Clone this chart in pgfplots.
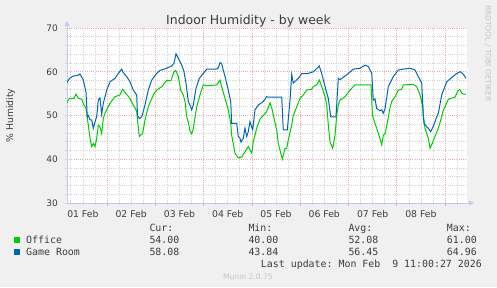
\documentclass[border=0pt]{standalone}
\usepackage{pgfplots}
\usepackage{pgfplotstable}
\pgfplotsset{compat=1.18}
\usepackage{fontspec}
\setmainfont{DejaVu Sans}
\setmonofont{DejaVu Sans Mono}
\usetikzlibrary{arrows.meta}
\definecolor{bgc}{HTML}{F0F0F0}
\definecolor{officec}{HTML}{00CC00}
\definecolor{gamec}{HTML}{0066B3}
\definecolor{mgrid}{HTML}{EAA8A8}
\definecolor{ngrid}{HTML}{D2D2D2}
\definecolor{axc}{HTML}{C8C8F4}
\definecolor{txt}{HTML}{3C3C3C}
\definecolor{lgray}{HTML}{C4C4C4}

% x = days since 01 Feb 00:00
\pgfplotstableread{
x y
0.166 52.9
0.220 53.9
0.317 53.9
0.358 54.9
0.410 53.9
0.476 53.7
0.524 52.4
0.565 51.6
0.613 47.8
0.648 44.8
0.683 42.9
0.717 43.6
0.752 42.9
0.787 44.8
0.820 47.8
0.855 47.4
0.890 45.9
0.924 49.4
0.959 50.5
0.994 51.3
1.062 52.8
1.166 54.3
1.269 54.7
1.325 56.0
1.373 55.3
1.476 53.9
1.545 52.4
1.615 51.0
1.632 49.0
1.669 45.2
1.739 45.9
1.752 46.7
1.787 49.0
1.855 52.0
1.959 54.7
2.029 55.8
2.133 56.6
2.236 58.0
2.326 58.0
2.388 60.0
2.423 60.3
2.477 58.9
2.526 55.8
2.580 54.7
2.616 53.2
2.651 49.7
2.684 48.5
2.719 46.5
2.754 45.8
2.787 47.0
2.858 52.0
2.926 54.7
2.994 57.0
3.071 56.8
3.272 57.0
3.340 58.1
3.375 56.6
3.444 53.9
3.512 51.3
3.562 48.2
3.582 45.5
3.651 41.4
3.719 40.3
3.790 40.5
3.858 41.7
3.926 42.9
3.997 41.4
4.030 44.0
4.100 47.1
4.169 49.2
4.237 50.0
4.307 50.9
4.376 52.9
4.417 51.5
4.445 50.0
4.514 46.7
4.548 43.6
4.597 41.4
4.630 40.0
4.686 42.5
4.721 42.5
4.755 44.4
4.825 47.8
4.858 50.0
4.929 52.0
4.997 53.9
5.065 54.7
5.136 55.8
5.239 56.0
5.272 56.6
5.343 57.0
5.397 58.1
5.446 56.6
5.515 54.3
5.550 52.4
5.583 47.8
5.618 44.0
5.674 42.5
5.722 45.5
5.757 50.0
5.790 52.4
5.825 53.5
5.929 54.3
6.032 55.8
6.136 57.0
6.467 57.0
6.498 50.0
6.550 48.2
6.585 47.1
6.639 45.2
6.689 43.3
6.722 45.5
6.757 45.8
6.825 49.5
6.861 51.8
6.896 53.2
6.964 54.3
7.033 55.8
7.103 56.0
7.136 57.0
7.343 57.1
7.413 56.6
7.482 54.7
7.538 52.0
7.550 50.0
7.585 47.1
7.654 44.8
7.689 42.5
7.724 43.3
7.792 45.2
7.861 47.1
7.931 49.7
7.958 51.0
7.999 52.0
8.068 53.7
8.207 54.2
8.275 55.8
8.310 55.9
8.345 55.1
8.379 54.9
8.434 54.9
}\officedata

\pgfplotstableread{
x y
0.166 57.5
0.234 58.6
0.302 59.0
0.400 59.2
0.441 59.5
0.509 58.1
0.565 55.4
0.592 49.7
0.613 50.0
0.648 49.0
0.683 49.0
0.717 47.1
0.752 48.5
0.787 49.8
0.820 53.5
0.855 54.0
0.890 50.3
0.924 52.8
0.994 55.8
1.062 57.7
1.166 58.5
1.234 59.6
1.305 60.6
1.338 59.8
1.408 58.9
1.476 57.7
1.545 55.8
1.615 54.7
1.632 50.0
1.669 49.3
1.719 49.7
1.787 52.4
1.855 55.8
1.926 58.1
2.029 59.6
2.098 60.3
2.236 60.8
2.340 61.3
2.388 62.0
2.429 64.1
2.477 63.1
2.547 61.5
2.595 60.0
2.636 57.4
2.684 53.2
2.719 52.4
2.754 51.3
2.787 52.4
2.843 56.2
2.912 58.5
2.994 59.6
3.065 60.6
3.272 60.6
3.309 61.0
3.340 62.1
3.375 61.8
3.444 58.9
3.512 55.8
3.562 53.2
3.582 48.2
3.686 48.2
3.719 45.2
3.754 44.8
3.775 43.9
3.823 44.8
3.858 47.1
3.893 45.2
3.926 46.3
3.961 48.6
4.017 46.7
4.065 51.3
4.133 52.4
4.237 53.2
4.307 54.3
4.340 54.2
4.618 54.2
4.651 46.7
4.734 46.7
4.790 53.5
4.825 59.4
4.858 57.4
4.962 58.5
5.032 59.6
5.163 59.6
5.272 60.0
5.397 61.3
5.446 59.6
5.515 56.6
5.583 53.9
5.633 49.7
5.742 49.7
5.790 58.5
5.825 58.2
5.964 59.3
6.101 60.6
6.239 60.8
6.343 61.5
6.411 61.2
6.482 59.6
6.515 53.5
6.550 53.8
6.585 51.6
6.653 51.1
6.689 51.3
6.722 50.5
6.757 51.5
6.825 56.6
6.929 58.9
7.033 60.4
7.136 60.6
7.275 60.8
7.378 60.4
7.447 58.9
7.517 57.4
7.550 50.0
7.565 48.2
7.621 47.4
7.654 47.1
7.703 46.3
7.757 47.5
7.828 49.7
7.861 50.5
7.931 54.7
8.035 57.7
8.138 58.7
8.242 59.6
8.310 60.0
8.366 59.6
8.434 58.5
}\gamedata

\newcommand{\mono}{\ttfamily\fontsize{9.95}{11}\selectfont}

\begin{document}
\begin{tikzpicture}[x=1bp,y=1bp]
\fill[bgc] (0,0) rectangle (497,287);
\useasboundingbox (0,0) rectangle (497,287);
\begin{axis}[
  at={(67bp,84bp)}, anchor=south west,
  scale only axis, width=400bp, height=175bp,
  xmin=0.172, xmax=8.455, ymin=30, ymax=70,
  axis lines=left,
  axis line style={draw=axc, line width=0.8bp, shorten >=-7bp, -{Triangle[length=5bp,width=5bp]}},
  axis background/.style={fill=white},
  tick align=outside,
  major tick length=2bp, minor tick length=2bp,
  tick style={draw=ngrid, line width=0.6bp},
  xtick={0.5,1.5,2.5,3.5,4.5,5.5,6.5,7.5},
  xticklabels={01 Feb,02 Feb,03 Feb,04 Feb,05 Feb,06 Feb,07 Feb,08 Feb},
  minor xtick={0.25,0.5,0.75,1.25,1.5,1.75,2.25,2.5,2.75,3.25,3.5,3.75,4.25,4.5,4.75,5.25,5.5,5.75,6.25,6.5,6.75,7.25,7.5,7.75,8.25},
  extra x ticks={1,2,3,4,5,6,7,8},
  extra x tick labels={},
  extra x tick style={xmajorgrids=true, tick style={draw=mgrid, line width=0.6bp}, major tick length=3bp},
  xmajorgrids=false, xminorgrids=true,
  ytick={30,40,50,60,70},
  minor ytick={32,34,36,38,42,44,46,48,52,54,56,58,62,64,66,68},
  ymajorgrids=true, yminorgrids=true,
  major grid style={draw=mgrid, line width=0.6bp, dash pattern=on 1bp off 1.2bp},
  minor grid style={draw=ngrid, line width=0.6bp, dash pattern=on 1bp off 1.2bp},
  /pgf/number format/assume math mode=true,
  xticklabel style={font=\fontsize{9.3}{10}\selectfont, text=txt, inner sep=0pt, anchor=north, yshift=-5bp},
  yticklabel style={font=\fontsize{9}{10}\selectfont, text=txt, inner sep=0pt, anchor=east, xshift=-7bp},
  clip=true,
]
\addplot[draw=officec, line width=1bp] table[x=x,y=y] {\officedata};
\addplot[draw=gamec, line width=1bp] table[x=x,y=y] {\gamedata};
\end{axis}
% title and labels
\node[anchor=base, inner sep=0, text=txt, font=\fontsize{12.5}{14}\selectfont] at (248.5,263) {Indoor Humidity - by week};
\node[rotate=90, inner sep=0, text=txt, font=\fontsize{9.3}{10}\selectfont] at (10.5,171.5) {\% Humidity};
\node[rotate=-90, anchor=west, inner sep=0, text=lgray, font=\fontsize{7.5}{8}\selectfont] at (488,282) {RRDTOOL / TOBI OETIKER};
% legend
\node[anchor=base west, inner sep=0, text=txt, font=\mono] at (149.3,55.3) {Cur:};
\node[anchor=base west, inner sep=0, text=txt, font=\mono] at (248.3,55.3) {Min:};
\node[anchor=base west, inner sep=0, text=txt, font=\mono] at (348.3,55.3) {Avg:};
\node[anchor=base west, inner sep=0, text=txt, font=\mono] at (446.7,55.3) {Max:};
\node[anchor=south west, inner sep=0, minimum size=6bp, fill=officec] at (14,44.3) {};
\node[anchor=south west, inner sep=0, minimum size=6bp, fill=gamec] at (14,32) {};
\node[anchor=base west, inner sep=0, text=txt, font=\mono] at (26,43.5) {Office};
\node[anchor=base west, inner sep=0, text=txt, font=\mono] at (149.3,43.5) {54.00};
\node[anchor=base west, inner sep=0, text=txt, font=\mono] at (248.3,43.5) {40.00};
\node[anchor=base west, inner sep=0, text=txt, font=\mono] at (348.3,43.5) {52.08};
\node[anchor=base west, inner sep=0, text=txt, font=\mono] at (446.7,43.5) {61.00};
\node[anchor=base west, inner sep=0, text=txt, font=\mono] at (26,31.5) {Game Room};
\node[anchor=base west, inner sep=0, text=txt, font=\mono] at (149.3,31.5) {58.08};
\node[anchor=base west, inner sep=0, text=txt, font=\mono] at (248.3,31.5) {43.84};
\node[anchor=base west, inner sep=0, text=txt, font=\mono] at (348.3,31.5) {56.45};
\node[anchor=base west, inner sep=0, text=txt, font=\mono] at (446.7,31.5) {64.96};
\node[anchor=base east, inner sep=0, text=txt, font=\mono] at (482,19.3) {Last update: Mon Feb\ \ 9 11:00:27 2026};
\node[anchor=base, inner sep=0, text=lgray, font=\fontsize{7.6}{8}\selectfont] at (248,8) {Munin 2.0.75};
\end{tikzpicture}
\end{document}
